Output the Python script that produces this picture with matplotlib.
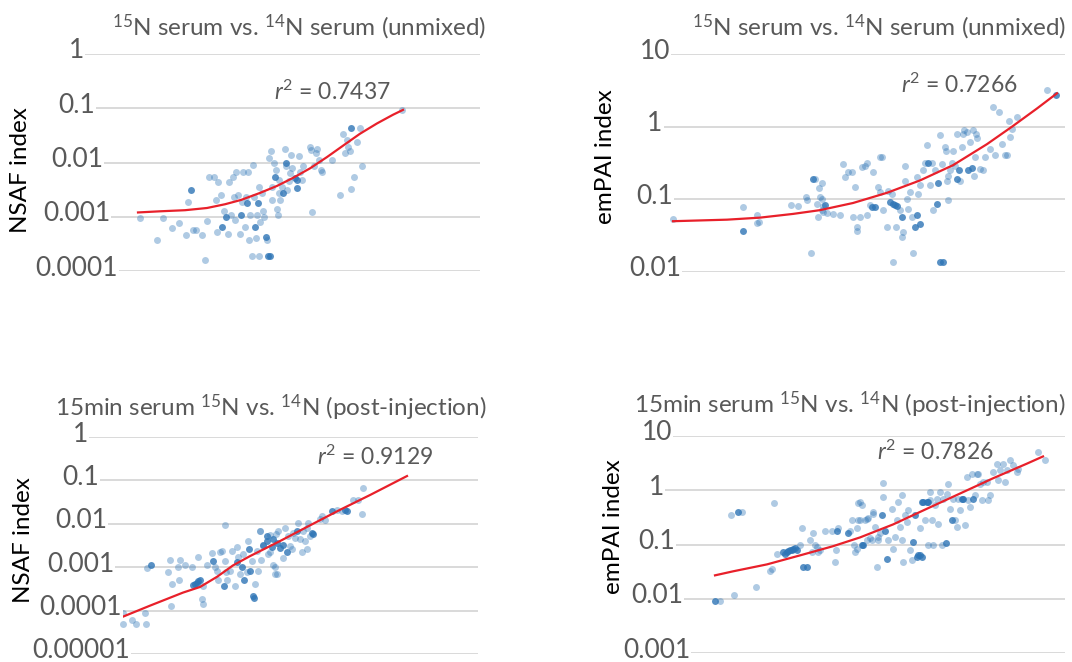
import matplotlib
matplotlib.use("Agg")
import matplotlib.pyplot as plt
import matplotlib.transforms as mtransforms
import numpy as np

plt.rcParams['font.family'] = ['Lato', 'DejaVu Sans']
plt.rcParams['mathtext.fontset'] = 'custom'
plt.rcParams['mathtext.rm'] = 'Lato'
plt.rcParams['mathtext.it'] = 'Lato:italic'

W, H = 1072, 662
GRAY = '#595959'
BLUE = '#2E75B6'

# ---- panel 1: NSAF, unmixed ----
p1_x = [140, 157, 163, 172, 179, 186, 188, 193, 196, 202, 205, 207, 209, 214, 216, 217, 218, 221, 224, 228,
        229, 231, 233, 234, 235, 236, 238, 240, 242, 243, 245, 246, 248, 249, 250, 252, 253, 254, 256, 257,
        259, 259, 260, 262, 263, 264, 267, 269, 271, 272, 272, 274, 276, 277, 278, 279, 279, 280, 282, 285,
        286, 287, 289, 290, 291, 292, 299, 300, 302, 303, 310, 311, 312, 314, 316, 317, 319, 321, 322, 332,
        340, 343, 345, 347, 348, 350, 351, 354, 357, 360, 362, 402]
p1_y = [0.00093, 0.00038, 0.00093, 0.00062, 0.00078, 0.00046, 0.0019, 0.00056, 0.00058, 0.00047, 0.00016,
        0.00085, 0.0055, 0.0055, 0.0020, 0.00053, 0.0044, 0.0025, 0.0013, 0.00049, 0.0044, 0.0011, 0.0055,
        0.0023, 0.00087, 0.0068, 0.0025, 0.00049, 0.0019, 0.0068, 0.00066, 0.0023, 0.0068, 0.00038, 0.0011,
        0.00019, 0.0090, 0.0023, 0.0004, 0.0011, 0.00019, 0.0036, 0.00081, 0.0027, 0.0013, 0.001, 0.00037,
        0.012, 0.016, 0.0036, 0.0020, 0.0097, 0.0073, 0.0014, 0.0011, 0.0027, 0.0048, 0.0020, 0.0036, 0.018,
        0.0085, 0.0031, 0.0045, 0.0064, 0.014, 0.0079, 0.013, 0.0068, 0.0048, 0.0085, 0.019, 0.017, 0.0012,
        0.0085, 0.015, 0.018, 0.011, 0.0073, 0.0068, 0.011, 0.0025, 0.033, 0.015, 0.026, 0.019, 0.016, 0.0033,
        0.0055, 0.024, 0.043, 0.0085, 0.093]
p1_dark_x = [191, 222, 226, 241, 247, 255, 258, 266, 268, 270, 275, 283, 286, 295, 297, 297, 351]
p1_dark_y = [0.0031, 0.00066, 0.001, 0.0011, 0.0018, 0.00066, 0.0018, 0.00043, 0.00019, 0.00019, 0.0055,
             0.0027, 0.0097, 0.0052, 0.0048, 0.0034, 0.043]
p1_fit_x = [138, 160, 185, 207, 225, 241, 260, 277, 293, 310, 327, 343, 360, 377, 393, 403]
p1_fit_y = [0.0012, 0.00126, 0.00132, 0.00145, 0.0017, 0.00204, 0.00275, 0.0037, 0.0052, 0.0078, 0.0126,
            0.0204, 0.0339, 0.0525, 0.0759, 0.0933]

# ---- panel 2: emPAI, unmixed ----
p2_x = [673, 743, 757, 757, 759, 791, 798, 806, 807, 811, 815, 817, 819, 820, 822, 822, 823, 818, 827, 822,
        823, 833, 840, 843, 845, 848, 852, 853, 855, 857, 857, 860, 862, 865, 867, 867, 870, 873, 878, 880,
        882, 880, 883, 887, 888, 892, 893, 896, 900, 902, 903, 905, 905, 907, 908, 910, 912, 913, 917, 918,
        920, 923, 925, 927, 930, 932, 933, 935, 940, 942, 945, 946, 947, 948, 948, 950, 952, 953, 955, 957,
        960, 962, 963, 964, 967, 970, 973, 974, 975, 976, 977, 980, 983, 985, 990, 993, 995, 999, 1002, 1005,
        1007, 1010, 1009, 1012, 1017, 1047]
p2_y = [0.054, 0.078, 0.060, 0.047, 0.049, 0.084, 0.080, 0.108, 0.099, 0.018, 0.19, 0.087, 0.145, 0.108,
        0.17, 0.072, 0.080, 0.058, 0.064, 0.10, 0.067, 0.063, 0.060, 0.31, 0.20, 0.24, 0.24, 0.057, 0.148,
        0.042, 0.037, 0.057, 0.28, 0.29, 0.32, 0.060, 0.083, 0.24, 0.15, 0.38, 0.38, 0.126, 0.071, 0.042,
        0.13, 0.12, 0.0137, 0.042, 0.071, 0.030, 0.035, 0.29, 0.18, 0.10, 0.074, 0.126, 0.057, 0.018, 0.20,
        0.12, 0.156, 0.25, 0.32, 0.56, 0.156, 0.32, 0.071, 0.25, 0.76, 0.31, 0.53, 0.46, 0.18, 0.097, 0.21,
        0.25, 0.32, 0.46, 0.29, 0.80, 0.18, 0.53, 0.80, 0.90, 0.85, 0.62, 0.90, 0.21, 0.38, 0.80, 0.69, 0.26,
        0.25, 0.38, 0.50, 1.88, 0.41, 1.60, 0.58, 0.41, 0.41, 0.72, 1.21, 0.92, 1.37, 3.18]
p2_dark_x = [743, 813, 825, 872, 875, 890, 893, 895, 897, 902, 915, 917, 920, 928, 937, 938, 940, 943, 957,
             959, 968, 972, 1056]
p2_dark_y = [0.037, 0.19, 0.083, 0.078, 0.078, 0.092, 0.087, 0.083, 0.080, 0.057, 0.042, 0.060, 0.046, 0.32,
             0.087, 0.17, 0.0137, 0.0137, 0.19, 0.25, 0.25, 0.27, 2.72]
p2_fit_x = [673, 727, 760, 793, 820, 853, 887, 920, 953, 987, 1012, 1037, 1057]
p2_fit_y = [0.050, 0.0525, 0.056, 0.063, 0.071, 0.089, 0.123, 0.182, 0.295, 0.575, 1.0, 1.78, 2.88]

# ---- panel 3: NSAF, 15 min post-injection ----
p3_x = [123, 123, 132, 136, 146, 145, 147, 170, 168, 171, 172, 178, 179, 180, 185, 192, 198, 202, 203, 203,
        207, 212, 215, 217, 218, 220, 222, 225, 225, 226, 227, 230, 232, 235, 237, 238, 240, 243, 247, 248,
        252, 255, 257, 258, 260, 261, 268, 270, 273, 275, 276, 260, 263, 270, 275, 277, 278, 283, 285, 288,
        290, 292, 293, 295, 298, 300, 302, 303, 305, 307, 308, 307, 310, 320, 322, 325, 337, 342, 353, 358,
        362, 363]
p3_y = [9e-5, 4.8e-5, 6e-5, 4.8e-5, 4.8e-5, 9e-5, 0.00096, 0.0015, 0.00076, 0.00013, 0.00042, 0.001, 0.0005,
        0.0015, 0.0011, 0.001, 0.0017, 0.00019, 0.00014, 0.00037, 0.0011, 0.0021, 0.001, 0.00083, 0.0005,
        0.0022, 0.0024, 0.0096, 0.0014, 0.00076, 0.0005, 0.00083, 0.0024, 0.00037, 0.0029, 0.0017, 0.0007,
        0.002, 0.00076, 0.0041, 0.0014, 0.00042, 0.0024, 0.00083, 0.007, 0.0015, 0.002, 0.0054, 0.0011,
        0.0007, 0.0059, 0.0068, 0.003, 0.0023, 0.001, 0.00068, 0.0068, 0.0016, 0.0081, 0.0052, 0.003, 0.0026,
        0.0062, 0.0047, 0.0105, 0.0044, 0.0023, 0.0068, 0.004, 0.0081, 0.0105, 0.0026, 0.0052, 0.0126, 0.015,
        0.012, 0.021, 0.0196, 0.036, 0.036, 0.0165, 0.068]
p3_dark_x = [151, 193, 195, 197, 198, 200, 213, 224, 237, 242, 244, 249, 250, 253, 254, 263, 267, 272, 277,
             267, 273, 280, 283, 287, 297, 312, 313, 332, 345, 347]
p3_dark_y = [0.0011, 0.00038, 0.00042, 0.00043, 0.00047, 0.0005, 0.0014, 0.00037, 0.0013, 0.001, 0.0005,
             0.0026, 0.00083, 0.00022, 0.0002, 0.0032, 0.0041, 0.0029, 0.0036, 0.0052, 0.0044, 0.0028, 0.0033,
             0.0023, 0.0068, 0.0062, 0.0057, 0.0196, 0.021, 0.0196]
p3_fit_x = [122, 150, 183, 200, 217, 233, 250, 280, 310, 340, 370, 407]
p3_fit_y = [7.1e-5, 1.3e-4, 2.6e-4, 3.5e-4, 6.0e-4, 1.1e-3, 1.8e-3, 4.0e-3, 9.2e-3, 0.021, 0.046, 0.126]

# ---- panel 4: emPAI, 15 min post-injection ----
p4_x = [720, 734, 731, 742, 774, 756, 770, 772, 777, 800, 802, 810, 812, 813, 815, 817, 818, 820, 825, 832,
        835, 836, 838, 850, 852, 854, 855, 857, 857, 858, 858, 862, 865, 867, 868, 872, 873, 877, 878, 860,
        860, 867, 870, 873, 875, 878, 880, 883, 883, 888, 892, 893, 895, 897, 898, 900, 902, 902, 903, 905,
        907, 908, 910, 912, 920, 925, 928, 930, 930, 932, 933, 935, 937, 938, 940, 942, 943, 947, 948, 950,
        953, 955, 957, 958, 960, 965, 967, 968, 970, 972, 975, 977, 978, 980, 982, 983, 987, 988, 990, 993,
        997, 998, 1000, 1003, 1005, 1007, 1010, 1013, 1017, 1018, 1038, 1045]
p4_y = [0.0091, 0.0115, 0.35, 0.40, 0.57, 0.0165, 0.033, 0.035, 0.068, 0.096, 0.20, 0.12, 0.073, 0.16, 0.10,
        0.09, 0.073, 0.078, 0.18, 0.18, 0.047, 0.08, 0.20, 0.18, 0.28, 0.096, 0.073, 0.20, 0.084, 0.28, 0.57,
        0.53, 0.28, 0.12, 0.31, 0.12, 0.37, 0.038, 0.14, 0.61, 0.28, 0.30, 0.13, 0.40, 0.21, 0.12, 0.16, 0.75,
        1.36, 0.12, 0.46, 0.084, 0.14, 0.28, 0.61, 0.21, 0.81, 0.12, 0.047, 0.35, 0.26, 0.43, 0.078, 0.051,
        0.20, 0.28, 0.097, 0.65, 0.93, 0.28, 0.097, 0.53, 0.70, 0.24, 0.93, 0.097, 0.70, 0.87, 1.33, 0.46,
        0.70, 0.28, 0.21, 0.70, 0.43, 0.23, 1.76, 0.65, 0.49, 2.03, 0.81, 2.03, 2.03, 1.33, 0.65, 1.43, 1.43,
        0.65, 0.81, 2.18, 3.1, 1.53, 2.34, 3.1, 1.43, 2.34, 3.6, 2.9, 2.18, 2.5, 5.1, 3.6]
p4_dark_x = [715, 738, 783, 785, 787, 788, 790, 792, 793, 795, 797, 803, 807, 837, 848, 863, 862, 882, 885,
             887, 913, 915, 917, 918, 920, 922, 922, 923, 927, 928, 946, 952, 962, 963, 973]
p4_dark_y = [0.0091, 0.40, 0.073, 0.068, 0.073, 0.076, 0.078, 0.080, 0.084, 0.087, 0.080, 0.039, 0.039, 0.18,
             0.16, 0.10, 0.10, 0.35, 0.18, 0.055, 0.11, 0.35, 0.059, 0.063, 0.063, 0.059, 0.61, 0.61, 0.61,
             0.61, 0.107, 0.28, 0.70, 0.70, 0.70]
p4_fit_x = [715, 733, 767, 800, 833, 860, 893, 927, 960, 993, 1027, 1043]
p4_fit_y = [0.027, 0.032, 0.043, 0.063, 0.093, 0.135, 0.234, 0.457, 0.87, 1.66, 3.1, 4.2]

title_unmixed = r'$^{15}$N serum vs. $^{14}$N serum (unmixed)'
title_post = r'15min serum $^{15}$N vs. $^{14}$N (post-injection)'
r2_values = ['0.7437', '0.7266', '0.9129', '0.7826']


def fx(x):
    return x / W


def fy(y):
    return 1 - y / H


fig = plt.figure(figsize=(W / 100, H / 100), dpi=100)

# axes boxes in pixels: left, right, top, bottom
boxes = [(84, 480, 54, 271), (664, 1065, 54, 272), (86, 478, 437, 654), (664, 1065, 436, 653)]
ylims = [(1e-4, 1), (1e-2, 10), (1e-5, 1), (1e-3, 10)]
yticks = [[0.0001, 0.001, 0.01, 0.1, 1], [0.01, 0.1, 1, 10],
          [0.00001, 0.0001, 0.001, 0.01, 0.1, 1], [0.001, 0.01, 0.1, 1, 10]]
ytick_labels = [['0.0001', '0.001', '0.01', '0.1', '1'], ['0.01', '0.1', '1', '10'],
                ['0.00001', '0.0001', '0.001', '0.01', '0.1', '1'], ['0.001', '0.01', '0.1', '1', '10']]
ylabels = ['NSAF index', 'emPAI index', 'NSAF index', 'emPAI index']
label_shift = [-7, -9, -5, -7]   # px from axes left to tick label centre
xs = [p1_x, p2_x, p3_x, p4_x]
ys = [p1_y, p2_y, p3_y, p4_y]
dxs = [p1_dark_x, p2_dark_x, p3_dark_x, p4_dark_x]
dys = [p1_dark_y, p2_dark_y, p3_dark_y, p4_dark_y]
fxs = [p1_fit_x, p2_fit_x, p3_fit_x, p4_fit_x]
fys = [p1_fit_y, p2_fit_y, p3_fit_y, p4_fit_y]

for i in range(4):
    l, r, t, b = boxes[i]
    ax = fig.add_axes([fx(l), fy(b), (r - l) / W, (b - t) / H])
    ax.set_yscale('log')
    ax.set_xlim(l, r)
    ax.set_ylim(*ylims[i])
    ax.set_axisbelow(True)
    ax.scatter(xs[i], ys[i], s=25, color=BLUE, alpha=0.38, linewidths=0)
    ax.scatter(dxs[i], dys[i], s=25, color=BLUE, alpha=0.8, linewidths=0)
    ax.plot(fxs[i], fys[i], color='#E8202A', lw=1.6, zorder=3, solid_joinstyle='round')
    ax.set_yticks(yticks[i])
    ax.set_yticklabels([])
    ax.yaxis.set_minor_locator(matplotlib.ticker.NullLocator())
    ax.tick_params(axis='y', length=0)
    ax.set_xticks([])
    ax.grid(axis='y', color='#D9D9D9', lw=1.4)
    for s in ax.spines.values():
        s.set_visible(False)
    trans = mtransforms.offset_copy(
        mtransforms.blended_transform_factory(ax.transAxes, ax.transData),
        fig=fig, x=label_shift[i], y=3, units='dots')
    for v, txt in zip(yticks[i], ytick_labels[i]):
        ax.text(0, v, txt, transform=trans, ha='center', va='center', fontsize=19, color=GRAY,
                bbox=dict(facecolor='white', edgecolor='none', pad=0.5), zorder=4)

# titles, axis labels, r^2
fig.text(fx(299), fy(27), title_unmixed, ha='center', va='center', fontsize=17.5, color=GRAY)
fig.text(fx(879), fy(27), title_unmixed, ha='center', va='center', fontsize=17.5, color=GRAY)
fig.text(fx(271), fy(408), title_post, ha='center', va='center', fontsize=17.5, color=GRAY)
fig.text(fx(850), fy(405), title_post, ha='center', va='center', fontsize=17.5, color=GRAY)

for (x, y), lab in zip([(21, 170), (606, 157), (24, 540), (613, 527)], ylabels):
    fig.text(fx(x), fy(y), lab, rotation=90, ha='center', va='center', fontsize=17.5, color='black')

for (x, y), v in zip([(274, 92), (901, 85), (317, 457), (877, 452)], r2_values):
    fig.text(fx(x), fy(y), r'$\mathit{r}^2$ = ' + v, ha='left', va='center', fontsize=16.5, color=GRAY)

fig.savefig('out.png', dpi=100)
